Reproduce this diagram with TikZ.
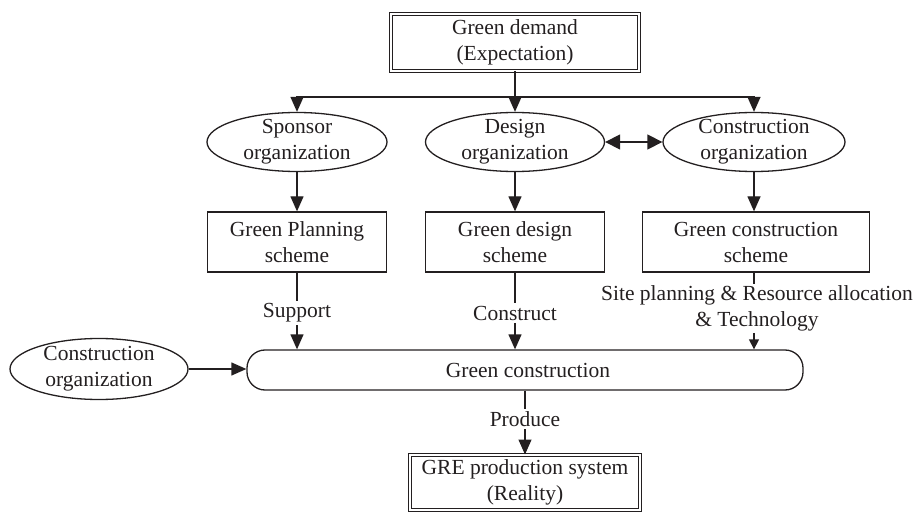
\documentclass[tikz,border=0pt]{standalone}
\usepackage{fontspec}
\setmainfont{Liberation Serif}
\usetikzlibrary{arrows.meta,shapes.geometric}
\definecolor{ink}{HTML}{231F20}

\begin{document}
\begin{tikzpicture}[x=1pt,y=-1pt,
  line width=1.3pt, draw=ink, text=ink,
  font=\fontsize{21.5}{26}\selectfont,
  box/.style={draw, rectangle, inner sep=0pt, align=center},
  dbox/.style={box, double, double distance=2.4pt, line width=1pt},
  oval/.style={draw, ellipse, inner sep=0pt},
  rbox/.style={draw, rectangle, rounded corners=18pt, inner sep=0pt},
  tag/.style={inner sep=2pt, align=center},
  arr/.style={-{Triangle[length=15pt,width=13pt]}},
  sarr/.style={-{Triangle[length=10pt,width=10pt]}},
  darr/.style={{Triangle[length=15pt,width=15pt]}-{Triangle[length=15pt,width=15pt]}}]
\useasboundingbox (0,0) rectangle (914,516);

% expectation and reality
\node[dbox, minimum width=247.5pt, minimum height=57pt] (top) at (515,42.5)
  {Green demand\\(Expectation)};
\node[dbox, minimum width=230pt, minimum height=55pt] (bot) at (525,482.5)
  {GRE production system\\(Reality)};

% organizations
\node[oval, minimum width=180pt, minimum height=59pt,
  label={[align=center]center:Sponsor\\organization}] (sp) at (297,142) {};
\node[oval, minimum width=179pt, minimum height=59pt,
  label={[align=center]center:Design\\organization}] (de) at (515,142) {};
\node[oval, minimum width=182pt, minimum height=59pt,
  label={[align=center]center:Construction\\organization}] (co) at (754,142) {};
\node[oval, minimum width=178pt, minimum height=61pt,
  label={[align=center]center:Construction\\organization}] (lo) at (99,369) {};

% schemes
\node[box, minimum width=179pt, minimum height=60pt] (spb) at (297,242)
  {Green Planning\\scheme};
\node[box, minimum width=179pt, minimum height=60pt] (deb) at (515,242)
  {Green design\\scheme};
\node[box, minimum width=227pt, minimum height=60pt] (cob) at (756,242)
  {Green construction\\scheme};

% green construction
\node[rbox, minimum width=556pt, minimum height=40pt] (gc) at (525,370) {};
\node[tag] (gct) at (528,370) {Green construction};

% link labels
\node[tag] (lsup) at (297,313) {Support};
\node[tag] (lcon) at (515,313) {Construct};
\node[tag, inner sep=1pt] (lsite) at (757,308.5)
  {Site planning \& Resource allocation\\\& Technology};
\node[tag] (lpro) at (525,419) {Produce};

% distribution from the demand
\coordinate (hub) at (515,97);
\draw[arr] (top.south) -- (de.north);
\draw[arr] (hub) -| (sp.north);
\draw[arr] (hub) -| (co.north);
\draw[darr] (de.east) -- (co.west);

% organizations to schemes
\draw[arr] (sp.south) -- (sp.south |- spb.north);
\draw[arr] (de.south) -- (de.south |- deb.north);
\draw[arr] (co.south) -- (co.south |- cob.north);

% schemes to green construction
\draw (spb.south -| lsup.north) -- (lsup.north);
\draw[arr] (lsup.south) -- (lsup.south |- gc.north);
\draw (deb.south -| lcon.north) -- (lcon.north);
\draw[arr] (lcon.south) -- (lcon.south |- gc.north);
\draw (cob.south -| co.south) -- (co.south |- lsite.north);
\draw[sarr] (co.south |- lsite.south) -- (co.south |- gc.north);
\draw[arr] (lo.east) -- (lo.east -| gc.west);

% green construction to production
\draw (gc.south) -- (lpro.north);
\draw[arr] (lpro.south) -- (bot.north);
\end{tikzpicture}
\end{document}
